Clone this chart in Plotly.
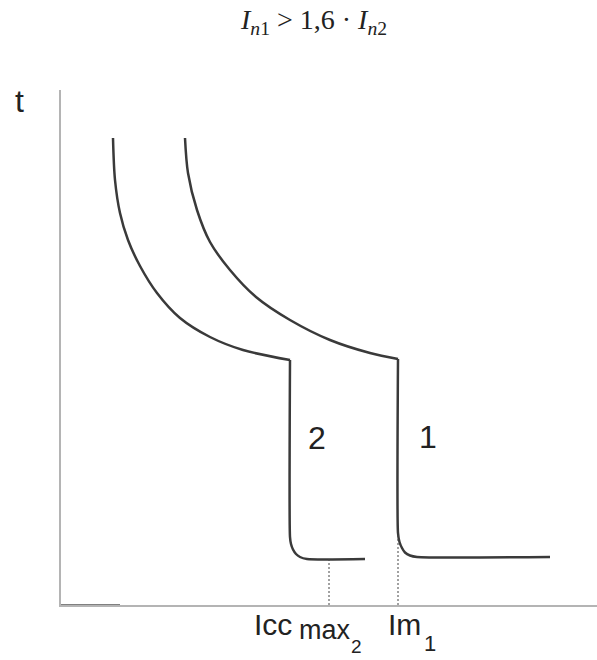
import plotly.graph_objects as go

# Schematic units: current (x) and time (y)
curve2_x = [1.04, 1.08, 1.18, 1.34, 1.58, 1.92, 2.38, 2.98, 3.64, 4.58]
curve2_y = [9.34, 8.50, 7.84, 7.30, 6.78, 6.24, 5.74, 5.36, 5.10, 4.90]
inst2_x = [4.58, 4.58, 4.60, 4.64, 4.70, 4.78, 4.92, 6.08]
inst2_y = [4.90, 1.36, 1.22, 1.11, 1.02, 0.96, 0.92, 0.92]

curve1_x = [2.48, 2.54, 2.72, 2.98, 3.38, 3.90, 4.58, 5.38, 6.18, 6.74]
curve1_y = [9.34, 8.64, 7.90, 7.26, 6.70, 6.16, 5.70, 5.30, 5.04, 4.92]
inst1_x = [6.74, 6.74, 6.77, 6.82, 6.88, 6.98, 7.12, 9.78]
inst1_y = [4.92, 1.44, 1.26, 1.14, 1.05, 0.99, 0.96, 0.96]

icc_max2 = 5.36
im1 = 6.74
axis_stub_x = [0.0, 1.18]

line_col = "#3a3a3a"
fig = go.Figure()

for xs, ys in [(curve2_x, curve2_y), (curve1_x, curve1_y)]:
    fig.add_trace(go.Scatter(x=xs, y=ys, mode="lines",
                             line=dict(color=line_col, width=2.5, shape="spline", smoothing=0.9),
                             hoverinfo="skip"))
for xs, ys in [(inst2_x, inst2_y), (inst1_x, inst1_y)]:
    fig.add_trace(go.Scatter(x=xs, y=ys, mode="lines",
                             line=dict(color=line_col, width=2.5, shape="spline", smoothing=0.6),
                             hoverinfo="skip"))

# dotted reference lines
fig.add_trace(go.Scatter(x=[icc_max2, icc_max2], y=[0, inst2_y[-1]], mode="lines",
                         line=dict(color="#444", width=1, dash="2px,2px"), hoverinfo="skip"))
fig.add_trace(go.Scatter(x=[im1, im1], y=[0, inst1_y[1]], mode="lines",
                         line=dict(color="#444", width=1, dash="2px,2px"), hoverinfo="skip"))
fig.add_trace(go.Scatter(x=axis_stub_x, y=[0, 0], mode="lines",
                         line=dict(color="#808080", width=2), hoverinfo="skip", cliponaxis=False))

sans = "Liberation Sans, Arial"
def f(size):
    return dict(family=sans, size=size, color="#222")

ann = [
    dict(x=5.12, y=3.34, xref="x", yref="y", text="2", font=f(32)),
    dict(x=7.34, y=3.36, xref="x", yref="y", text="1", font=f(32)),
    dict(x=-0.078, y=0.979, xref="paper", yref="paper", text="t", font=f(32)),
    # Icc_max_2
    dict(x=0.3563, y=-0.0388, xref="paper", yref="paper", xanchor="left", text="Icc", font=f(30)),
    dict(x=0.4403, y=-0.0485, xref="paper", yref="paper", xanchor="left", text="max", font=f(27)),
    dict(x=0.537, y=-0.080, xref="paper", yref="paper", xanchor="left", text="2", font=f(19)),
    # Im_1
    dict(x=0.6063, y=-0.0388, xref="paper", yref="paper", xanchor="left", text="Im", font=f(30)),
    dict(x=0.6735, y=-0.0757, xref="paper", yref="paper", xanchor="left", text="1", font=f(22)),
    dict(x=0.472, y=1.133, xref="paper", yref="paper",
         text="<i>I</i><sub><i>n</i>1</sub> &gt; 1,6 · <i>I</i><sub><i>n</i>2</sub>",
         font=dict(family="Liberation Serif, Times New Roman", size=28, color="#222")),
]
for a in ann:
    a.setdefault("xanchor", "center")
    a.update(showarrow=False, yanchor="middle")
    fig.add_annotation(**a)

fig.update_layout(
    width=597, height=660,
    margin=dict(l=61, r=0, t=90, b=55),
    paper_bgcolor="white", plot_bgcolor="white",
    showlegend=False,
    xaxis=dict(range=[0, 10.72], showline=True, linecolor="#b4b4b4", linewidth=1.5,
               showgrid=False, zeroline=False, showticklabels=False, ticks=""),
    yaxis=dict(range=[0, 10.3], showline=True, linecolor="#b4b4b4", linewidth=1.5,
               showgrid=False, zeroline=False, showticklabels=False, ticks=""),
)

fig.write_html("out.html", config={"displayModeBar": False},
               post_script="document.body.style.margin='0';document.body.style.overflow='hidden';")
